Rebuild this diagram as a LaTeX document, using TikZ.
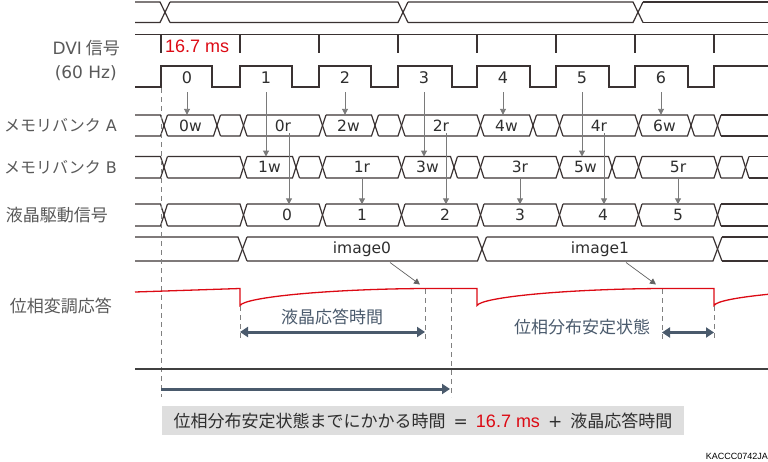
\documentclass[tikz,border=0pt]{standalone}
\usepackage{fontspec}
\setmainfont{Noto Sans CJK JP}
\newfontfamily\dv{DejaVu Sans}
\newfontfamily\lib{Liberation Sans}
\usetikzlibrary{arrows.meta}
\definecolor{busc}{HTML}{3A3232}
\definecolor{lblc}{HTML}{595959}
\definecolor{arrc}{HTML}{7A7A7A}
\definecolor{redc}{HTML}{DC0A14}
\definecolor{slate}{HTML}{4A5A6C}
\definecolor{boxc}{HTML}{DEDEDE}
\definecolor{txtc}{HTML}{2E2E2E}
\definecolor{dashc}{HTML}{808080}
\definecolor{hlinec}{HTML}{404040}
\newcommand\busrow[4]{%
  \pgfmathsetmacro\bstart{135-#3}%
  \foreach \cx [remember=\cx as \px (initially \bstart)] in {#4}{%
    \draw[sig] (\px+#3,#1) -- (\cx-#3,#1) -- (\cx+#3,#2);
    \draw[sig] (\px+#3,#2) -- (\cx-#3,#2) -- (\cx+#3,#1);
    \xdef\lastcx{\cx}%
  }%
  \draw[sig] (\lastcx+#3,#1) -- (768,#1);
  \draw[sig] (\lastcx+#3,#2) -- (768,#2);
}
\begin{document}
\begin{tikzpicture}[x=1pt,y=-1pt,
  sig/.style={draw=busc, line width=1.2pt, line join=miter},
  lbl/.style={font=\fontsize{17}{19}\selectfont, text=lblc, anchor=east, inner sep=0pt},
  blab/.style={font={\dv\fontsize{15.5}{17}\selectfont}, text=txtc, inner sep=0pt, minimum height=21pt},
  dlab/.style={font={\dv\fontsize{16}{18}\selectfont}, text=txtc, inner sep=0pt},
  garrow/.style={draw=arrc, line width=0.9pt, -{Triangle[length=6pt,width=6pt]}},
  sarrow/.style={draw=slate, line width=3pt},
  dsh/.style={draw=dashc, line width=0.8pt, dash pattern=on 5pt off 4pt},
  slab/.style={font=\fontsize{17}{20}\selectfont, text=slate, inner sep=0pt}]
\useasboundingbox (0,0) rectangle (768,461);

% top bus row
\busrow{2}{22.5}{5}{165,403,638}
% tick row
\draw[sig] (135,34.5) -- (768,34.5);
\foreach \k in {0,...,7} \draw[sig] (161+79*\k,34.5) -- ++(0,18.5);
\node[font={\lib\fontsize{18}{20}\selectfont}, text=redc, anchor=west, inner sep=0pt] (ms) at (165,46.7) {16.7 ms};
% DVI wave
\draw[sig] (135,87) -- (161,87) |- (212,66) |- (240,87) |- (292,66) |- (319,87) |- (371,66) |- (398,87) |- (452,66) |- (477,87) |- (530,66) |- (556,87) |- (609,66) |- (635,87) |- (688,66) |- (714,87) |- (768,66);
\foreach \k in {0,...,6} \node[dlab] (d\k) at (187+79*\k,78) {\k};

% left labels
\node[lbl] (ldvi) at (120,48) {{\dv DVI} 信号};
\node[lbl] (lhz) at (117,73) {{\dv (60 Hz)}};
\node[lbl, font=\fontsize{16}{18}\selectfont] (lba) at (117,125.5) {メモリバンク\hspace{5pt}{\dv A}};
\node[lbl, font=\fontsize{16}{18}\selectfont] (lbb) at (117,167) {メモリバンク\hspace{5pt}{\dv B}};
\node[lbl] (llcd) at (108,215) {液晶駆動信号};
\node[lbl] (lpm) at (112,306) {位相変調応答};

% memory bank A
\busrow{115}{136}{3.5}{164,217,243.5,322.5,375,401.5,480.5,533,559.5,638.5,691,717.5}
\node[blab] (a0w) at (190.5,125.5) {0w};
\node[blab] (a0r) at (283,125.5) {0r};
\node[blab] (a2w) at (348.5,125.5) {2w};
\node[blab] (a2r) at (441,125.5) {2r};
\node[blab] (a4w) at (506.5,125.5) {4w};
\node[blab] (a4r) at (599,125.5) {4r};
\node[blab] (a6w) at (664.5,125.5) {6w};
% memory bank B
\busrow{156.5}{178}{3.5}{164,243.5,296,322.5,401.5,454,480.5,559.5,612,638.5,717.5,745.5}
\node[blab] (b1w) at (269.5,167.25) {1w};
\node[blab] (b1r) at (362,167.25) {1r};
\node[blab] (b3w) at (427.5,167.25) {3w};
\node[blab] (b3r) at (520,167.25) {3r};
\node[blab] (b5w) at (585.5,167.25) {5w};
\node[blab] (b5r) at (678,167.25) {5r};
% LCD drive
\busrow{204}{226}{3.5}{164,243.5,322.5,401.5,480.5,559.5,638.5,717.5}
\node[blab] (l0) at (287,215) {0};
\node[blab] (l1) at (362,215) {1};
\node[blab] (l2) at (445,215) {2};
\node[blab] (l3) at (520,215) {3};
\node[blab] (l4) at (603,215) {4};
\node[blab] (l5) at (678,215) {5};
% image row
\busrow{237}{261}{4.5}{242.5,482,717.5}
\node[blab] (img0) at (362,249) {image0};
\node[blab] (img1) at (600,249) {image1};

% write arrows
\draw[garrow] ([yshift=-8pt]d0.south) -- (d0.south |- a0w.north);
\draw[garrow] ([yshift=-8pt]d1.south) -- (d1.south |- b1w.north);
\draw[garrow] ([yshift=-8pt]d2.south) -- (d2.south |- a2w.north);
\draw[garrow] ([yshift=-8pt]d3.south) -- (d3.south |- b3w.north);
\draw[garrow] ([yshift=-8pt]d4.south) -- (d4.south |- a4w.north);
\draw[garrow] ([yshift=-8pt]d5.south) -- (d5.south |- b5w.north);
\draw[garrow] ([yshift=-8pt]d6.south) -- (d6.south |- a6w.north);
% read arrows
\coordinate (r0) at (289,133);
\coordinate (r2) at (446,133);
\coordinate (r4) at (604,133);
\draw[garrow] (r0) -- (r0 |- l0.north);
\draw[garrow] (r2) -- (r2 |- l2.north);
\draw[garrow] (r4) -- (r4 |- l4.north);
\draw[garrow] (b1r.south) -- (b1r.south |- l1.north);
\draw[garrow] (b3r.south) -- (b3r.south |- l3.north);
\draw[garrow] (b5r.south) -- (b5r.south |- l5.north);

% dashed guides
\draw[dsh] (161,88) -- (161,397);
\draw[dsh] (240,306) -- (240,339);
\draw[dsh] (425,289) -- (425,339);
\draw[dsh] (451,289) -- (451,397);
\draw[dsh] (662,289) -- (662,339);
\draw[dsh] (714,306) -- (714,339);

% phase modulation response
\draw[draw=redc, line width=1.3pt] (135,292) -- (240,288.5) -- (240,305.5)
  .. controls (245,297) and (330,289) .. (425,288.5) -- (477,288.5) -- (477,305.5)
  .. controls (482,297) and (567,289) .. (662,288.5) -- (714,288.5) -- (714,305.5)
  .. controls (716.4,301.2) and (737.2,297.4) .. (768,294.3);

% image arrows
\coordinate (ia0) at (390,262.5);
\coordinate (ib0) at (420,284.5);
\coordinate (ia1) at (626,262.5);
\coordinate (ib1) at (656,284.5);
\draw[garrow, line width=0.7pt, draw=arrc!80!black] (ia0) -- (ib0);
\draw[garrow, line width=0.7pt, draw=arrc!80!black] (ia1) -- (ib1);

% slate arrows and labels
\node[slab] (lcdt) at (332,317) {液晶応答時間};
\node[slab] (stab) at (582,327) {位相分布安定状態};
\coordinate (la) at (240,332);
\coordinate (lb) at (425,332);
\coordinate (sa) at (662,332.5);
\coordinate (sb) at (714,332.5);
\draw[sarrow, {Triangle[length=8pt,width=10pt]}-{Triangle[length=8pt,width=10pt]}] (la) -- (lb);
\draw[sarrow, {Triangle[length=8pt,width=10pt]}-{Triangle[length=8pt,width=10pt]}] (sa) -- (sb);

% horizontal separator
\coordinate (h0) at (135,369);
\coordinate (h1) at (768,369);
\draw[draw=hlinec, line width=1.6pt] (h0) -- (h1);

% total arrow
\coordinate (ta) at (161,389);
\coordinate (tb) at (450,389);
\draw[sarrow, -{Triangle[length=8pt,width=10pt]}] (ta) -- (tb);

% summary box
\node[fill=boxc, minimum width=522pt, minimum height=29pt, inner sep=0pt, text=txtc,
  font=\fontsize{17}{20}\selectfont] (sum) at (423,420.5)
  {位相分布安定状態までにかかる時間\hspace{8pt}{\dv =}\hspace{8pt}\textcolor{redc}{\lib\fontsize{18}{20}\selectfont 16.7 ms}\hspace{8pt}{\dv +}\hspace{8pt}液晶応答時間};

\node[font={\lib\fontsize{9}{10}\selectfont}, text=black, anchor=east, inner sep=0pt] (code) at (768,456) {KACCC0742JA};
\end{tikzpicture}
\end{document}
